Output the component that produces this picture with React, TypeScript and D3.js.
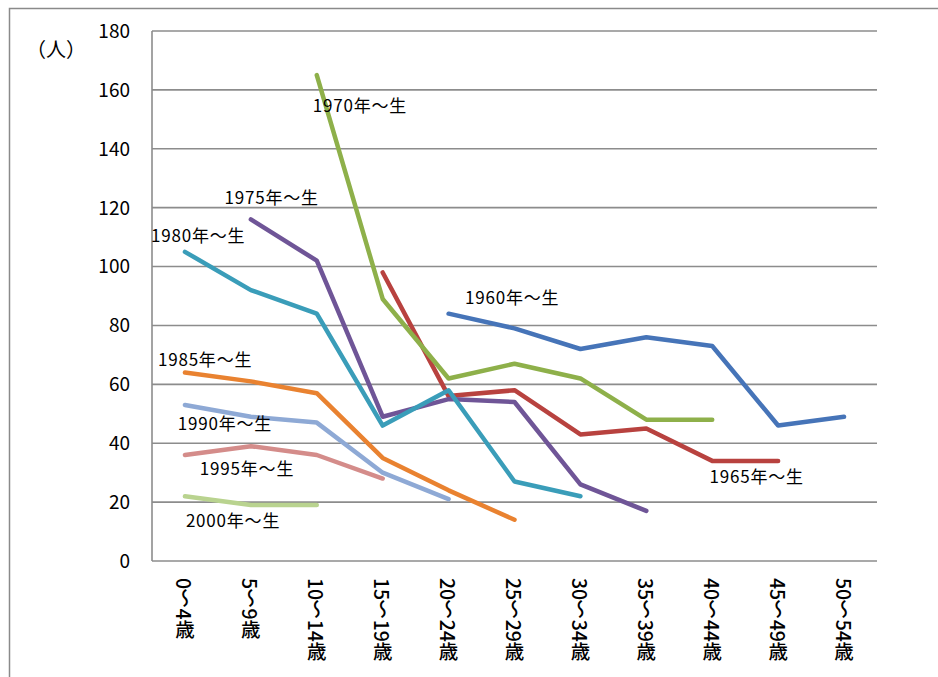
import React from 'react';
import * as d3 from 'd3';

const categories = ['0～4歳', '5～9歳', '10～14歳', '15～19歳', '20～24歳', '25～29歳', '30～34歳', '35～39歳', '40～44歳', '45～49歳', '50～54歳'];
const yTicks = [0, 20, 40, 60, 80, 100, 120, 140, 160, 180];

type V = number | null;
const s1960: V[] = [null, null, null, null, 84, 79, 72, 76, 73, 46, 49];
const s1965: V[] = [null, null, null, 98, 56, 58, 43, 45, 34, 34, null];
const s1970: V[] = [null, null, 165, 89, 62, 67, 62, 48, 48, null, null];
const s1975: V[] = [null, 116, 102, 49, 55, 54, 26, 17, null, null, null];
const s1980: V[] = [105, 92, 84, 46, 58, 27, 22, null, null, null, null];
const s1985: V[] = [64, 61, 57, 35, 24, 14, null, null, null, null, null];
const s1990: V[] = [53, 49, 47, 30, 21, null, null, null, null, null, null];
const s1995: V[] = [36, 39, 36, 28, null, null, null, null, null, null, null];
const s2000: V[] = [22, 19, 19, null, null, null, null, null, null, null, null];

const seriesNames = ['1960年～生', '1965年～生', '1970年～生', '1975年～生', '1980年～生', '1985年～生', '1990年～生', '1995年～生', '2000年～生'];
const seriesValues = [s1960, s1965, s1970, s1975, s1980, s1985, s1990, s1995, s2000];
const seriesColors = ['#4674B8', '#B8423F', '#8EB04A', '#6F5597', '#3A9DB9', '#E98230', '#8EA9D5', '#D48C8A', '#B9D38F'];
// label anchor: [fractional category index, value]
const labelAnchors: [number, number][] = [
  [4.25, 87.3], [7.96, 26.4], [1.94, 152.5], [0.6, 121.3], [-0.515, 108.4],
  [-0.41, 66.3], [-0.11, 44.6], [0.226, 29.3], [0.014, 11.4],
];

const W = 938;
const H = 677;
const left = 152;
const right = 877;
const top = 31;
const bottom = 561;
const jp = '"Noto Sans CJK JP", "Noto Sans", sans-serif';

export default function App() {
  const x = d3.scaleBand<string>().domain(categories).range([left, right]).padding(0);
  const xi = d3.scaleLinear().domain([0, categories.length]).range([left, right]);
  const y = d3.scaleLinear().domain([0, 180]).range([bottom, top]);

  const line = d3.line<V>()
    .defined(d => d != null)
    .x((d, i) => (x(categories[i]) as number) + x.bandwidth() / 2)
    .y(d => y(d as number));

  return (
    <svg width={W} height={H} style={{ position: 'absolute', left: 0, top: 0, background: '#fff' }}>
      <rect x={9.5} y={8.5} width={W + 10} height={H + 10} fill="none" stroke="#8a8a8a" strokeWidth={1.5} />
      {yTicks.map(t => (
        <g key={t}>
          <line x1={left} x2={right} y1={y(t)} y2={y(t)} stroke="#8c8c8c" strokeWidth={1.6} />
          <text x={130} y={y(t)} dy="0.36em" textAnchor="end" fontSize={19} fontFamily={jp} fill="#000">{t}</text>
        </g>
      ))}
      <line x1={left} x2={left} y1={top} y2={bottom} stroke="#8c8c8c" strokeWidth={1.6} />
      <text x={56} y={57} textAnchor="middle" fontSize={20} fontFamily={jp} fill="#000">（人）</text>
      {categories.map(c => (
        <text key={c} x={(x(c) as number) + x.bandwidth() / 2} y={578}
          fontSize={19.5} fontWeight={500} fontFamily={jp} fill="#000"
          style={{ writingMode: 'vertical-rl' }}>{c}</text>
      ))}
      {seriesValues.map((s, k) => (
        <path key={seriesNames[k]} d={line(s) || ''} fill="none" stroke={seriesColors[k]}
          strokeWidth={4.5} strokeLinecap="round" strokeLinejoin="round" />
      ))}
      {seriesNames.map((n, k) => (
        <text key={n} x={xi(labelAnchors[k][0] + 0.5)} y={y(labelAnchors[k][1])}
          fontSize={17} letterSpacing={0.8} fontFamily={jp} fill="#000">{n}</text>
      ))}
    </svg>
  );
}
